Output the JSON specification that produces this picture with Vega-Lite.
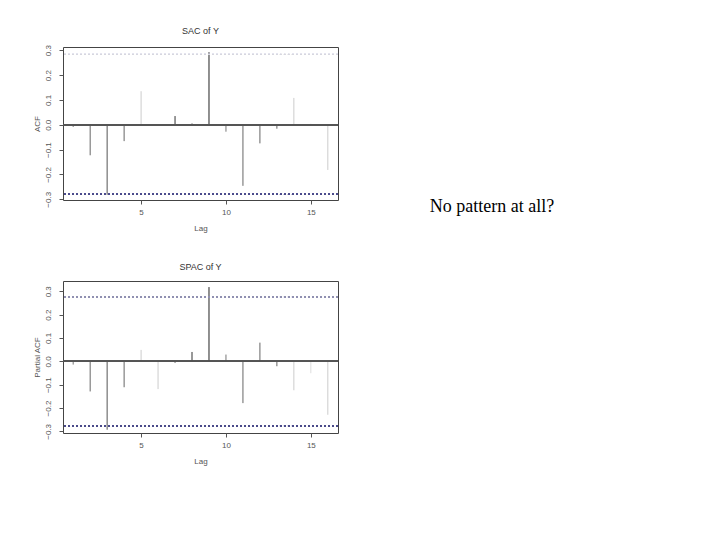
{
  "$schema": "https://vega.github.io/schema/vega-lite/v6.json",
  "background": "white",
  "padding": {"left": 32, "top": 26, "right": 5, "bottom": 5},
  "datasets": {
    "sac": [
      {"lag": 1, "acf": -0.009}, {"lag": 2, "acf": -0.123}, {"lag": 3, "acf": -0.282}, {"lag": 4, "acf": -0.066},
      {"lag": 5, "acf": 0.135}, {"lag": 6, "acf": -0.003}, {"lag": 7, "acf": 0.035}, {"lag": 8, "acf": 0.005},
      {"lag": 9, "acf": 0.292}, {"lag": 10, "acf": -0.028}, {"lag": 11, "acf": -0.246}, {"lag": 12, "acf": -0.075},
      {"lag": 13, "acf": -0.016}, {"lag": 14, "acf": 0.108}, {"lag": 15, "acf": 0.004}, {"lag": 16, "acf": -0.182}
    ],
    "spac": [
      {"lag": 1, "acf": -0.014}, {"lag": 2, "acf": -0.129}, {"lag": 3, "acf": -0.293}, {"lag": 4, "acf": -0.111},
      {"lag": 5, "acf": 0.049}, {"lag": 6, "acf": -0.119}, {"lag": 7, "acf": -0.006}, {"lag": 8, "acf": 0.04},
      {"lag": 9, "acf": 0.318}, {"lag": 10, "acf": 0.029}, {"lag": 11, "acf": -0.179}, {"lag": 12, "acf": 0.08},
      {"lag": 13, "acf": -0.021}, {"lag": 14, "acf": -0.124}, {"lag": 15, "acf": -0.051}, {"lag": 16, "acf": -0.229}
    ],
    "note": [{"text": "No pattern at all?"}]
  },
  "config": {
    "font": "Liberation Sans",
    "view": {"stroke": "#444", "strokeWidth": 1},
    "axis": {
      "grid": false, "domain": false, "tickColor": "#555", "tickSize": 4, "labelOverlap": false,
      "labelColor": "#555", "labelFontSize": 8, "titleColor": "#555", "titleFontSize": 8,
      "titleFontWeight": "normal", "labelFont": "Liberation Sans", "titleFont": "Liberation Sans"
    },
    "title": {"fontSize": 9, "color": "#333", "fontWeight": "normal", "font": "Liberation Sans", "offset": 9}
  },
  "hconcat": [
    {
      "vconcat": [
        {
          "title": "SAC of Y",
          "width": 275, "height": 153,
          "data": {"name": "sac"},
          "layer": [
            {
              "mark": {"type": "rule", "strokeWidth": 1},
              "encoding": {
                "x": {"field": "lag", "type": "quantitative",
                      "scale": {"domain": [0.4, 16.6], "nice": false, "zero": false},
                      "axis": {"values": [5, 10, 15], "tickCount": 3, "title": "Lag", "labelPadding": 4, "titlePadding": 8}},
                "y": {"field": "acf", "type": "quantitative",
                      "scale": {"domain": [-0.303, 0.313], "nice": false},
                      "axis": {"values": [-0.3, -0.2, -0.1, 0, 0.1, 0.2, 0.3], "tickCount": 7, "format": ".1f", "title": "ACF", "labelOverlap": false,
                               "labelAngle": -90, "labelAlign": "center", "labelBaseline": "bottom", "labelPadding": 7, "titlePadding": 3}},
                "y2": {"datum": 0},
                "color": {"field": "lag", "type": "nominal", "legend": null,
                          "scale": {"domain": [1,2,3,4,5,6,7,8,9,10,11,12,13,14,15,16],
                                    "range": ["#777","#666","#555","#666","#ccc","#ccc","#333","#333","#222","#777","#666","#666","#666","#ccc","#ddd","#ccc"]}}
              }
            },
            {"mark": {"type": "rule", "color": "#555", "strokeWidth": 1}, "encoding": {"y": {"datum": 0}}},
            {"mark": {"type": "rule", "color": "#d8d8e0", "strokeWidth": 0.8, "strokeDash": [2, 2]}, "encoding": {"y": {"datum": 0.283}}},
            {"mark": {"type": "rule", "color": "#4a4a8a", "strokeWidth": 0.8, "strokeDash": [2, 2]}, "encoding": {"y": {"datum": -0.28}}}
          ]
        },
        {
          "title": "SPAC of Y",
          "width": 275, "height": 152,
          "data": {"name": "spac"},
          "layer": [
            {
              "mark": {"type": "rule", "strokeWidth": 1},
              "encoding": {
                "x": {"field": "lag", "type": "quantitative",
                      "scale": {"domain": [0.4, 16.6], "nice": false, "zero": false},
                      "axis": {"values": [5, 10, 15], "tickCount": 3, "title": "Lag", "labelPadding": 4, "titlePadding": 8}},
                "y": {"field": "acf", "type": "quantitative",
                      "scale": {"domain": [-0.307, 0.344], "nice": false},
                      "axis": {"values": [-0.3, -0.2, -0.1, 0, 0.1, 0.2, 0.3], "tickCount": 7, "format": ".1f", "title": "Partial ACF", "labelOverlap": false,
                               "labelAngle": -90, "labelAlign": "center", "labelBaseline": "bottom", "labelPadding": 7, "titlePadding": 3}},
                "y2": {"datum": 0},
                "color": {"field": "lag", "type": "nominal", "legend": null,
                          "scale": {"domain": [1,2,3,4,5,6,7,8,9,10,11,12,13,14,15,16],
                                    "range": ["#777","#666","#555","#666","#ccc","#ccc","#888","#333","#222","#777","#777","#666","#444","#ccc","#ccc","#ccc"]}}
              }
            },
            {"mark": {"type": "rule", "color": "#555", "strokeWidth": 1}, "encoding": {"y": {"datum": 0}}},
            {"mark": {"type": "rule", "color": "#9090b0", "strokeWidth": 0.8, "strokeDash": [2, 2]}, "encoding": {"y": {"datum": 0.276}}},
            {"mark": {"type": "rule", "color": "#4a4a8a", "strokeWidth": 0.8, "strokeDash": [2, 2]}, "encoding": {"y": {"datum": -0.276}}}
          ]
        }
      ],
      "spacing": 29
    },
    {
      "width": 200, "height": 320,
      "view": {"stroke": null},
      "data": {"name": "note"},
      "mark": {"type": "text", "font": "Liberation Serif", "fontSize": 18, "color": "#000", "baseline": "middle", "align": "center"},
      "encoding": {"text": {"field": "text"}}
    }
  ],
  "spacing": 53
}
